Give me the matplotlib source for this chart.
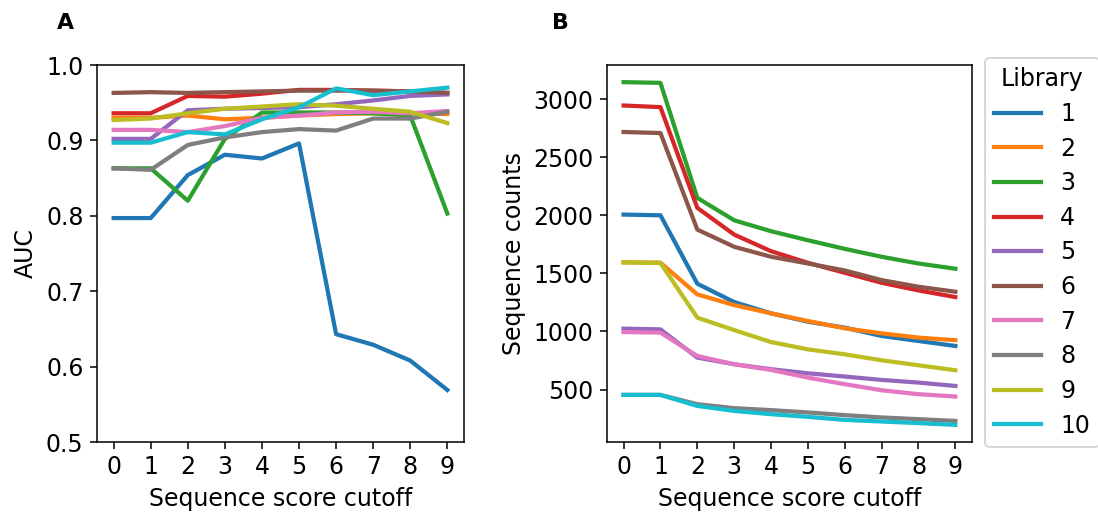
import numpy as np
import matplotlib
matplotlib.use('Agg')
import matplotlib.pyplot as plt

cutoff = np.arange(10)
libraries = ['1', '2', '3', '4', '5', '6', '7', '8', '9', '10']

# AUC per library at each sequence score cutoff
auc_1 = [0.797, 0.797, 0.854, 0.881, 0.876, 0.896, 0.643, 0.629, 0.608, 0.569]
auc_2 = [0.930, 0.930, 0.933, 0.928, 0.930, 0.933, 0.935, 0.936, 0.936, 0.935]
auc_3 = [0.863, 0.863, 0.820, 0.902, 0.937, 0.937, 0.937, 0.936, 0.933, 0.803]
auc_4 = [0.936, 0.936, 0.959, 0.958, 0.962, 0.967, 0.967, 0.966, 0.965, 0.963]
auc_5 = [0.902, 0.902, 0.940, 0.942, 0.943, 0.944, 0.948, 0.953, 0.959, 0.961]
auc_6 = [0.963, 0.964, 0.963, 0.964, 0.965, 0.966, 0.966, 0.966, 0.965, 0.963]
auc_7 = [0.914, 0.914, 0.911, 0.919, 0.930, 0.933, 0.937, 0.938, 0.936, 0.939]
auc_8 = [0.863, 0.861, 0.894, 0.904, 0.911, 0.915, 0.913, 0.929, 0.929, 0.938]
auc_9 = [0.927, 0.929, 0.936, 0.942, 0.945, 0.948, 0.946, 0.942, 0.938, 0.923]
auc_10 = [0.897, 0.897, 0.911, 0.908, 0.928, 0.944, 0.969, 0.960, 0.965, 0.970]

# number of sequences left per library at each cutoff
counts_1 = [2006, 2000, 1411, 1253, 1156, 1084, 1033, 961, 918, 875]
counts_2 = [1595, 1592, 1319, 1227, 1156, 1090, 1027, 984, 947, 925]
counts_3 = [3146, 3140, 2150, 1957, 1863, 1785, 1711, 1643, 1585, 1540]
counts_4 = [2945, 2931, 2064, 1834, 1691, 1591, 1505, 1419, 1353, 1296]
counts_5 = [1024, 1018, 775, 718, 675, 640, 612, 583, 560, 531]
counts_6 = [2717, 2708, 1877, 1729, 1643, 1585, 1525, 1442, 1385, 1342]
counts_7 = [995, 990, 789, 718, 669, 603, 546, 494, 460, 440]
counts_8 = [454, 454, 374, 340, 323, 303, 280, 260, 245, 230]
counts_9 = [1595, 1590, 1119, 1012, 909, 846, 803, 752, 709, 666]
counts_10 = [454, 454, 359, 316, 288, 265, 239, 225, 211, 196]

auc = [auc_1, auc_2, auc_3, auc_4, auc_5, auc_6, auc_7, auc_8, auc_9, auc_10]
counts = [counts_1, counts_2, counts_3, counts_4, counts_5,
          counts_6, counts_7, counts_8, counts_9, counts_10]

plt.rcParams['font.size'] = 12.3

dpi = 138
fig = plt.figure(figsize=(1098/dpi, 516/dpi), dpi=dpi)
axA = fig.add_axes([0.0883, 0.1434, 0.3343, 0.7306])
axB = fig.add_axes([0.5528, 0.1434, 0.3324, 0.7306])

for name, y in zip(libraries, auc):
    axA.plot(cutoff, y, lw=2.2, label=name)
for name, y in zip(libraries, counts):
    axB.plot(cutoff, y, lw=2.2, label=name)

axA.set_ylim(0.5, 1.0)
axA.set_xticks(cutoff)
axA.set_xlabel('Sequence score cutoff')
axA.set_ylabel('AUC')

axB.set_xticks(cutoff)
axB.set_yticks([500, 1000, 1500, 2000, 2500, 3000])
axB.set_xlabel('Sequence score cutoff')
axB.set_ylabel('Sequence counts')

axB.legend(title='Library', loc='upper left', bbox_to_anchor=(0.897, 0.8876),
           bbox_transform=fig.transFigure, borderaxespad=0, labelspacing=0.45,
           title_fontsize=12.3)

fig.text(65/1098, 1 - 23/516, 'A', fontweight='bold', fontsize=11.5,
         ha='center', va='center')
fig.text(560/1098, 1 - 23/516, 'B', fontweight='bold', fontsize=11.5,
         ha='center', va='center')

fig.savefig('out.png', dpi=dpi)
